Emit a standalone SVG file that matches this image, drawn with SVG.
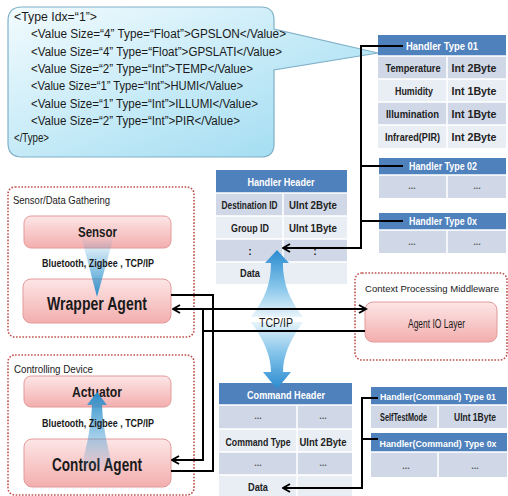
<svg xmlns="http://www.w3.org/2000/svg" width="508" height="496" viewBox="0 0 508 496">
<defs>
<style>
.t{font-family:"Liberation Sans",Arial,sans-serif;fill:#1a1a1a}
.cl{font-size:12.5px}
.hd{font-size:11px;font-weight:bold;fill:#ffffff;text-anchor:middle}
.hs{font-size:9.5px}
.cell{font-size:10.5px;font-weight:bold;text-anchor:middle;fill:#222}
.dots{font-size:9px;font-weight:bold;text-anchor:middle;fill:#555}
.lbl{font-size:11px}
.box{fill:url(#pink);stroke:#e39a9a;stroke-width:1}
.grp{fill:#ffffff;stroke:#c0504d;stroke-width:1.6;stroke-dasharray:1.6 1.6}
.th{fill:#4f81bd}
.r1{fill:#d0d8e8}
.r2{fill:#e9edf4}
.sep{stroke:#ffffff;stroke-width:1.5;fill:none}
.ln{fill:none;stroke:#000;stroke-width:2}
</style>
<linearGradient id="pink" x1="0" y1="0" x2="0" y2="1">
<stop offset="0" stop-color="#fde6e6"/>
<stop offset="1" stop-color="#f3aeae"/>
</linearGradient>
<linearGradient id="callg" x1="0" y1="0" x2="1" y2="1">
<stop offset="0" stop-color="#f2fbfe"/>
<stop offset="1" stop-color="#98d9f0"/>
</linearGradient>
<linearGradient id="upg" x1="0" y1="0" x2="0" y2="1">
<stop offset="0" stop-color="#2a8bcf"/>
<stop offset="0.55" stop-color="#86c5ea"/>
<stop offset="1" stop-color="#e8f4fb"/>
</linearGradient>
<linearGradient id="dng" x1="0" y1="1" x2="0" y2="0">
<stop offset="0" stop-color="#2a8bcf"/>
<stop offset="0.55" stop-color="#86c5ea"/>
<stop offset="1" stop-color="#e8f4fb"/>
</linearGradient>
<linearGradient id="sdown" x1="0" y1="0" x2="0" y2="1">
<stop offset="0" stop-color="#3a9ad2" stop-opacity="0"/>
<stop offset="1" stop-color="#2b8fcb" stop-opacity="1"/>
</linearGradient>
<linearGradient id="aup" x1="0" y1="1" x2="0" y2="0">
<stop offset="0" stop-color="#3a9ad2" stop-opacity="0"/>
<stop offset="1" stop-color="#2b8fcb" stop-opacity="1"/>
</linearGradient>
<marker id="ah" viewBox="0 0 10 10" refX="8.5" refY="5" markerWidth="10" markerHeight="10" markerUnits="userSpaceOnUse" orient="auto-start-reverse">
<path d="M1.5,1 L8.5,5 L1.5,9" fill="none" stroke="#000" stroke-width="2"/>
</marker>
</defs>

<rect x="0" y="0" width="508" height="496" fill="#ffffff"/>

<g id="callout">
<path d="M22,7 H261 Q274,7 274,20 V29 L378,53 L274,70 V144 Q274,157 261,157 H22 Q8,157 8,143 V21 Q8,7 22,7 Z" fill="url(#callg)" stroke="#7fb0c8" stroke-width="1.2"/>
<text class="t cl" x="14" y="20.5" textLength="83" lengthAdjust="spacingAndGlyphs">&lt;Type Idx=“1”&gt;</text>
<text class="t cl" x="31" y="38" textLength="255" lengthAdjust="spacingAndGlyphs">&lt;Value Size=“4” Type=“Float”&gt;GPSLON&lt;/Value&gt;</text>
<text class="t cl" x="31" y="55.5" textLength="251" lengthAdjust="spacingAndGlyphs">&lt;Value Size=“4” Type=“Float”&gt;GPSLATI&lt;/Value&gt;</text>
<text class="t cl" x="31" y="73" textLength="222" lengthAdjust="spacingAndGlyphs">&lt;Value Size=“2” Type=“Int”&gt;TEMP&lt;/Value&gt;</text>
<text class="t cl" x="31" y="90" textLength="212" lengthAdjust="spacingAndGlyphs">&lt;Value Size=“1” Type=“Int”&gt;HUMI&lt;/Value&gt;</text>
<text class="t cl" x="31" y="107.5" textLength="227" lengthAdjust="spacingAndGlyphs">&lt;Value Size=“1” Type=“Int”&gt;ILLUMI&lt;/Value&gt;</text>
<text class="t cl" x="31" y="124.5" textLength="209" lengthAdjust="spacingAndGlyphs">&lt;Value Size=“2” Type=“Int”&gt;PIR&lt;/Value&gt;</text>
<text class="t cl" x="14" y="142" textLength="35" lengthAdjust="spacingAndGlyphs">&lt;/Type&gt;</text>
</g>

<g id="handler-type-01">
<rect class="th" x="378" y="35" width="128" height="21"/>
<rect class="r1" x="378" y="56" width="128" height="23"/>
<rect class="r2" x="378" y="79" width="128" height="23"/>
<rect class="r1" x="378" y="102" width="128" height="23"/>
<rect class="r2" x="378" y="125" width="128" height="23"/>
<path class="sep" d="M378,56 H506 M378,79 H506 M378,102 H506 M378,125 H506 M447,56 V148"/>
<text class="t hd" x="442" y="50" textLength="72" lengthAdjust="spacingAndGlyphs">Handler Type 01</text>
<text class="t cell" x="413" y="71.5" textLength="55" lengthAdjust="spacingAndGlyphs">Temperature</text>
<text class="t cell" x="474" y="71.5" textLength="45" lengthAdjust="spacingAndGlyphs">Int 2Byte</text>
<text class="t cell" x="414" y="94.5" textLength="38" lengthAdjust="spacingAndGlyphs">Humidity</text>
<text class="t cell" x="474" y="94.5" textLength="45" lengthAdjust="spacingAndGlyphs">Int 1Byte</text>
<text class="t cell" x="412.5" y="117.5" textLength="53" lengthAdjust="spacingAndGlyphs">Illumination</text>
<text class="t cell" x="474" y="117.5" textLength="45" lengthAdjust="spacingAndGlyphs">Int 1Byte</text>
<text class="t cell" x="412.5" y="140.5" textLength="55" lengthAdjust="spacingAndGlyphs">Infrared(PIR)</text>
<text class="t cell" x="474" y="140.5" textLength="45" lengthAdjust="spacingAndGlyphs">Int 2Byte</text>
</g>

<g id="handler-type-02">
<rect class="th" x="379" y="158" width="127" height="17"/>
<rect class="r1" x="379" y="175" width="127" height="23"/>
<path class="sep" d="M379,175 H506 M447,175 V198"/>
<text class="t hd" x="443" y="170" textLength="68" lengthAdjust="spacingAndGlyphs">Handler Type 02</text>
<text class="t dots" x="412" y="189">...</text>
<text class="t dots" x="477" y="189">...</text>
</g>

<g id="handler-type-0x">
<rect class="th" x="379" y="213" width="127" height="17"/>
<rect class="r1" x="379" y="230" width="127" height="23"/>
<path class="sep" d="M379,230 H506 M447,230 V253"/>
<text class="t hd" x="443" y="225" textLength="68" lengthAdjust="spacingAndGlyphs">Handler Type 0x</text>
<text class="t dots" x="412" y="245">...</text>
<text class="t dots" x="477" y="245">...</text>
</g>

<g id="handler-header">
<rect class="th" x="216" y="170" width="131" height="23"/>
<rect class="r1" x="216" y="193" width="131" height="23"/>
<rect class="r2" x="216" y="216" width="131" height="23"/>
<rect class="r1" x="216" y="239" width="131" height="23"/>
<rect class="r2" x="216" y="262" width="131" height="22"/>
<path class="sep" d="M216,193 H347 M216,216 H347 M216,239 H347 M216,262 H347 M283,193 V284"/>
<text class="t hd" x="281" y="186" textLength="67" lengthAdjust="spacingAndGlyphs">Handler Header</text>
<text class="t cell" x="249.5" y="208.5" textLength="56" lengthAdjust="spacingAndGlyphs">Destination ID</text>
<text class="t cell" x="313" y="208.5" textLength="48" lengthAdjust="spacingAndGlyphs">UInt 2Byte</text>
<text class="t cell" x="250" y="231.5" textLength="38" lengthAdjust="spacingAndGlyphs">Group ID</text>
<text class="t cell" x="313" y="231.5" textLength="48" lengthAdjust="spacingAndGlyphs">UInt 1Byte</text>
<text class="t cell" x="250" y="255">:</text>
<text class="t cell" x="315" y="255">:</text>
<text class="t cell" x="250" y="277" textLength="20" lengthAdjust="spacingAndGlyphs">Data</text>
</g>

<g id="command-header">
<rect class="th" x="219" y="383" width="133" height="22"/>
<rect class="r1" x="219" y="405" width="133" height="24"/>
<rect class="r2" x="219" y="429" width="133" height="23"/>
<rect class="r1" x="219" y="452" width="133" height="23"/>
<rect class="r2" x="219" y="475" width="133" height="22"/>
<path class="sep" d="M219,405 H352 M219,429 H352 M219,452 H352 M219,475 H352 M297,405 V497"/>
<text class="t hd" x="286" y="399" textLength="78" lengthAdjust="spacingAndGlyphs">Command Header</text>
<text class="t dots" x="258" y="419">...</text>
<text class="t dots" x="323" y="419">...</text>
<text class="t cell" x="258" y="445.5" textLength="65" lengthAdjust="spacingAndGlyphs">Command Type</text>
<text class="t cell" x="323" y="445.5" textLength="47" lengthAdjust="spacingAndGlyphs">UInt 2Byte</text>
<text class="t dots" x="258" y="466">...</text>
<text class="t dots" x="323" y="466">...</text>
<text class="t cell" x="258" y="490.5" textLength="20" lengthAdjust="spacingAndGlyphs">Data</text>
</g>

<g id="handler-command-type-01">
<rect class="th" x="371" y="387" width="136" height="18"/>
<rect class="r1" x="371" y="405" width="136" height="23"/>
<path class="sep" d="M371,405 H507 M438,405 V428"/>
<text class="t hd hs" x="438" y="400" textLength="116" lengthAdjust="spacingAndGlyphs">Handler(Command) Type 01</text>
<text class="t cell" x="403.5" y="420.5" textLength="47" lengthAdjust="spacingAndGlyphs">SelfTestMode</text>
<text class="t cell" x="475" y="420.5" textLength="42" lengthAdjust="spacingAndGlyphs">UInt 1Byte</text>
</g>

<g id="handler-command-type-0x">
<rect class="th" x="371" y="433" width="136" height="19"/>
<rect class="r1" x="371" y="452" width="136" height="25"/>
<path class="sep" d="M371,452 H507 M438,452 V477"/>
<text class="t hd hs" x="438" y="446.5" textLength="117" lengthAdjust="spacingAndGlyphs">Handler(Command) Type 0x</text>
<text class="t dots" x="406" y="469">...</text>
<text class="t dots" x="475" y="469">...</text>
</g>

<g id="sensor-data-gathering">
<rect class="grp" x="8" y="187" width="186" height="150" rx="7"/>
<text class="t lbl" x="13" y="204" textLength="97" lengthAdjust="spacingAndGlyphs">Sensor/Data Gathering</text>
</g>
<g id="sensor">
<rect class="box" x="24" y="216" width="147" height="32" rx="7"/>
<text class="t" x="97.5" y="237" font-size="15" font-weight="bold" text-anchor="middle" textLength="39" lengthAdjust="spacingAndGlyphs">Sensor</text>
</g>
<g id="wrapper-agent">
<rect class="box" x="23" y="279" width="148" height="44" rx="8"/>
<text class="t" x="97" y="310" font-size="18" font-weight="bold" text-anchor="middle" textLength="100" lengthAdjust="spacingAndGlyphs">Wrapper Agent</text>
</g>
<g id="sensor-link">
<polygon points="81,236 114,236 97,297" fill="url(#sdown)"/>
<text class="t" x="98" y="267" font-size="10.5" font-weight="bold" text-anchor="middle" textLength="112" lengthAdjust="spacingAndGlyphs">Bluetooth, Zigbee , TCP/IP</text>
</g>

<g id="controlling-device">
<rect class="grp" x="8" y="355" width="186" height="140" rx="7"/>
<text class="t lbl" x="14" y="373" textLength="79" lengthAdjust="spacingAndGlyphs">Controlling Device</text>
</g>
<g id="actuator">
<rect class="box" x="24" y="376" width="147" height="31" rx="7"/>
<text class="t" x="97" y="397" font-size="15" font-weight="bold" text-anchor="middle" textLength="50" lengthAdjust="spacingAndGlyphs">Actuator</text>
</g>
<g id="control-agent">
<rect class="box" x="24" y="439" width="147" height="48" rx="8"/>
<text class="t" x="97" y="471" font-size="18" font-weight="bold" text-anchor="middle" textLength="90" lengthAdjust="spacingAndGlyphs">Control Agent</text>
</g>
<g id="actuator-link">
<path d="M97,392 L107,405 L102,405 C103,430 109,452 114,474 L80,474 C85,452 91,430 92,405 L87,405 Z" fill="url(#aup)"/>
<text class="t" x="98" y="427" font-size="10.5" font-weight="bold" text-anchor="middle" textLength="112" lengthAdjust="spacingAndGlyphs">Bluetooth, Zigbee , TCP/IP</text>
</g>

<g id="context-processing-middleware">
<rect class="grp" x="355" y="273" width="152" height="87" rx="7"/>
<text class="t" x="432" y="292" font-size="9.5" text-anchor="middle" textLength="134" lengthAdjust="spacingAndGlyphs">Context Processing Middleware</text>
</g>
<g id="agent-io-layer">
<rect class="box" x="365" y="302" width="132" height="40" rx="8"/>
<text class="t" x="436.5" y="328" font-size="12" text-anchor="middle" textLength="57" lengthAdjust="spacingAndGlyphs">Agent IO Layer</text>
</g>

<g id="tcpip-flow">
<path d="M277,250 L289,263 L283,263 C283,285 290,300 303,317 L251,317 C264,300 271,285 271,263 L265,263 Z" fill="url(#upg)"/>
<path d="M251,322 C264,340 271,356 271,372 L263,372 L277,389 L291,372 L283,372 C283,356 290,340 303,322 Z" fill="url(#dng)"/>
<text class="t" x="276" y="326.5" font-size="13" text-anchor="middle" textLength="34" lengthAdjust="spacingAndGlyphs">TCP/IP</text>
</g>

<g id="connectors">
<path class="ln" d="M171,295 H213 V471 H171"/>
<path class="ln" d="M173,309 H366" marker-start="url(#ah)" marker-end="url(#ah)"/>
<path class="ln" d="M365,331 H203 V460 H172" marker-end="url(#ah)"/>
<path class="ln" d="M203,309 V331"/>
<path class="ln" d="M403,46 H361 V248 H283" marker-end="url(#ah)"/>
<path class="ln" d="M361,166 H403 M361,221 H403"/>
<path class="ln" d="M378,398 H362 V488 H283" marker-end="url(#ah)"/>
<path class="ln" d="M362,439 H378"/>
</g>
</svg>
